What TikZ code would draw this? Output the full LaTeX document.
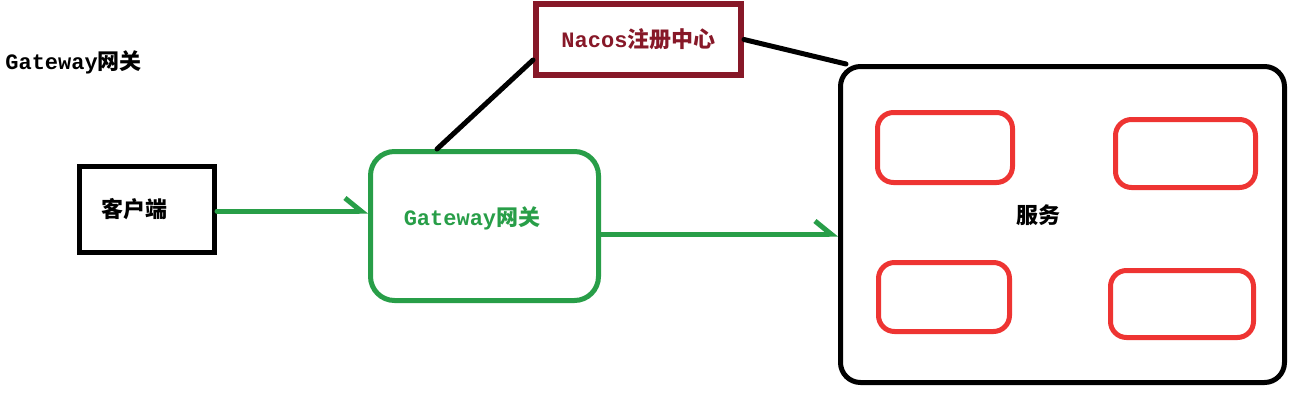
\documentclass[tikz,border=0pt]{standalone}
\usepackage{fontspec}
\setmainfont{Liberation Mono}
\newfontfamily\cjk{Noto Sans CJK SC}
\usetikzlibrary{arrows.meta}
\definecolor{gwgreen}{RGB}{40,158,72}
\definecolor{nacosred}{RGB}{135,24,40}
\definecolor{svcred}{RGB}{238,52,50}
\newcommand{\cn}[1]{{\cjk\bfseries #1}}

\begin{document}
\begin{tikzpicture}[x=0.5pt,y=-0.5pt,
    box/.style={draw,line width=2.5pt,inner sep=0pt},
    label/.style={font=\bfseries\fontsize{11}{13}\selectfont},
    link/.style={line width=2.5pt,line cap=round},
    flow/.style={link,gwgreen,-{Straight Barb[left,length=8pt,width=13pt]}},
    svcbox/.style={box,svcred,rounded corners=8pt}]
    \useasboundingbox (0,0) rectangle (1298,402);
    \node[label,anchor=west,inner sep=0pt] (title) at (5,62) {Gateway\cn{网关}};
    % client and gateway
    \node[box,minimum width=67.5pt,minimum height=43pt] (client) at (147,209) {};
    \node[label] (clienttext) at (134,209) {\cn{客户端}};
    \node[box,gwgreen,rounded corners=12pt,minimum width=114pt,minimum height=74.5pt] (gw) at (484.5,226) {};
    \node[label,text=gwgreen] (gwtext) at (472,218) {Gateway\cn{网关}};
    % registry
    \node[box,nacosred,line width=3pt,minimum width=102.5pt,minimum height=35.5pt,
          label,text=nacosred] (nacos) at (638.5,39.5) {Nacos\cn{注册中心}};
    % services
    \node[box,rounded corners=10pt,minimum width=222pt,minimum height=158pt] (svc) at (1062.5,224.5) {};
    \node[label] (svctext) at (1038,215) {\cn{服务}};
    \node[svcbox,minimum width=67.5pt,minimum height=35pt] (s1) at (945,147.5) {};
    \node[svcbox,minimum width=70pt,minimum height=34pt] (s2) at (1185.5,153.5) {};
    \node[svcbox,minimum width=65.5pt,minimum height=34.5pt] (s3) at (944,297) {};
    \node[svcbox,minimum width=71.5pt,minimum height=33.5pt] (s4) at (1182,304) {};
    % connectors
    \draw[flow] (client.east |- 0,211) -- (gw.west |- 0,211);
    \draw[flow] (gw.east |- 0,234) -- (svc.west |- 0,234);
    \draw[link] (nacos.west |- 0,60) -- (gw.north -| 437,0);
    \draw[link] (nacos.east) -- ([xshift=4pt]svc.north west);
\end{tikzpicture}
\end{document}
